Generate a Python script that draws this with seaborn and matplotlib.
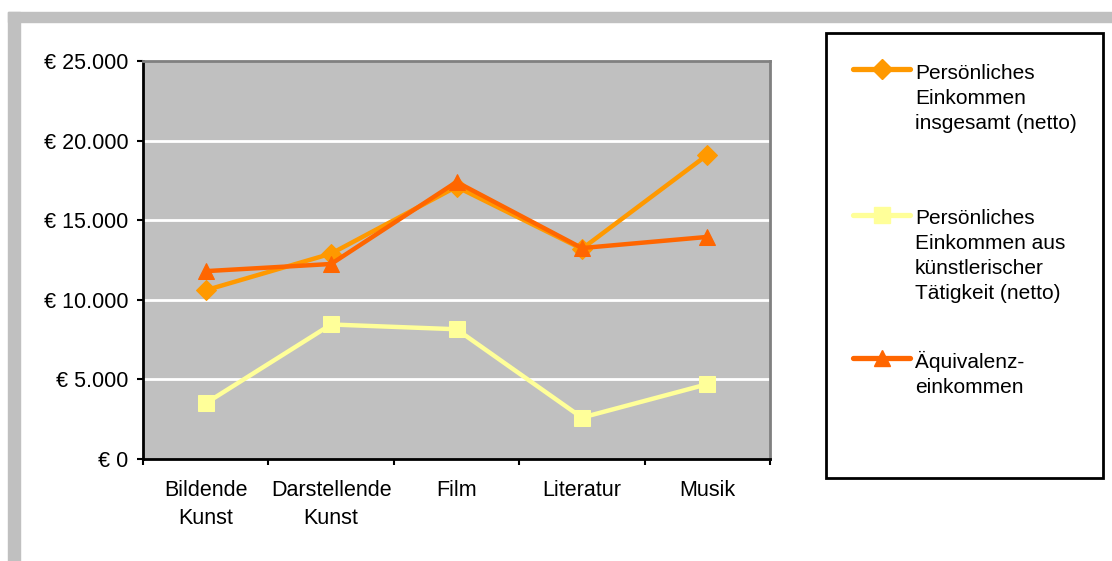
import matplotlib.pyplot as plt
import matplotlib.patches as mpatches
from matplotlib.lines import Line2D
import seaborn as sns
import pandas as pd

# Daten
sparten = ['Bildende\nKunst', 'Darstellende\nKunst', 'Film', 'Literatur', 'Musik']
einkommen_gesamt = [10600, 12900, 17100, 13200, 19100]
einkommen_kunst = [3500, 8450, 8150, 2600, 4700]
aequivalenz = [11800, 12250, 17400, 13250, 13950]
serien = ['Persönliches\nEinkommen\ninsgesamt (netto)',
          'Persönliches\nEinkommen aus\nkünstlerischer\nTätigkeit (netto)',
          'Äquivalenz-\neinkommen']
y_ticks = [0, 5000, 10000, 15000, 20000, 25000]

farben = ['#FF9900', '#FFFF99', '#FF6600']
marker = ['D', 's', '^']
msize = [10, 12, 12]

sns.set_style('white')
plt.rcParams['font.family'] = ['Liberation Sans', 'DejaVu Sans']
plt.rcParams['text.color'] = 'black'
plt.rcParams['xtick.color'] = 'black'
plt.rcParams['ytick.color'] = 'black'

df = pd.DataFrame({
    'Sparte': sparten * 3,
    'Wert': einkommen_gesamt + einkommen_kunst + aequivalenz,
    'Serie': [serien[0]] * 5 + [serien[1]] * 5 + [serien[2]] * 5,
})

fig = plt.figure(figsize=(11.12, 5.61), dpi=100)
W, H = 1112, 561

# grauer Rahmen
fig.patches.append(mpatches.Rectangle((8 / W, 1 - 22 / H), 1 - 8 / W, 10 / H,
                                      transform=fig.transFigure, color='#C0C0C0', zorder=0))
fig.patches.append(mpatches.Rectangle((8 / W, 0), 12 / W, 1 - 12 / H,
                                      transform=fig.transFigure, color='#C0C0C0', zorder=0))

ax = fig.add_axes([143 / W, 1 - 459 / H, (770 - 143) / W, (459 - 61) / H])
ax.set_facecolor('#C0C0C0')

for i, s in enumerate(serien):
    sub = df[df['Serie'] == s]
    sns.lineplot(data=sub, x='Sparte', y='Wert', ax=ax, color=farben[i], marker=marker[i],
                 markersize=msize[i], markeredgecolor=farben[i], linewidth=3.2,
                 sort=False, legend=False, zorder=3 + (i == 2))

ax.set_xlim(-0.5, 4.5)
ax.set_ylim(0, 25000)
ax.set_yticks(y_ticks)
ax.set_yticklabels(['€ ' + f'{v:,}'.replace(',', '.') for v in y_ticks], fontsize=15.5)
ax.set_xticks([-0.5, 0.5, 1.5, 2.5, 3.5, 4.5])
ax.set_xticklabels([])
ax.set_xticks(range(5), minor=True)
ax.set_xticklabels(sparten, minor=True, fontsize=15.5, linespacing=1.45)
ax.tick_params(axis='x', which='major', direction='out', length=4.5, width=1.5, color='black', bottom=True)
ax.tick_params(axis='x', which='minor', length=0, pad=15, labelcolor='black')
ax.tick_params(axis='y', direction='out', length=4.5, width=1.5, color='black', left=True, pad=6,
               labelcolor='black')
ax.set_xlabel('')
ax.set_ylabel('')

for y in y_ticks[1:-1]:
    ax.axhline(y, color='white', linewidth=2, zorder=1)

ax.spines['left'].set_color('black')
ax.spines['bottom'].set_color('black')
ax.spines['left'].set_linewidth(2)
ax.spines['bottom'].set_linewidth(2)
ax.spines['top'].set_color('#808080')
ax.spines['right'].set_color('#808080')
ax.spines['top'].set_linewidth(2)
ax.spines['right'].set_linewidth(2)

# Legende
fig.patches.append(mpatches.Rectangle((826 / W, 1 - 478 / H), (1103 - 826) / W, (478 - 33) / H,
                                      transform=fig.transFigure, facecolor='white',
                                      edgecolor='black', linewidth=2, zorder=1))
leg_y = [69, 215, 358]
txt_top = [64, 209, 351]
for i, s in enumerate(serien):
    y = 1 - leg_y[i] / H
    fig.add_artist(Line2D([853 / W, 910 / W], [y, y], transform=fig.transFigure,
                          color=farben[i], linewidth=3.8))
    fig.add_artist(Line2D([881.5 / W], [y], transform=fig.transFigure, color=farben[i],
                          marker=marker[i], markersize=msize[i], markeredgecolor=farben[i]))
    fig.text(915 / W, 1 - txt_top[i] / H, s, fontsize=15, va='top', ha='left',
             linespacing=1.4, color='black')

plt.savefig('out.png', dpi=100)
